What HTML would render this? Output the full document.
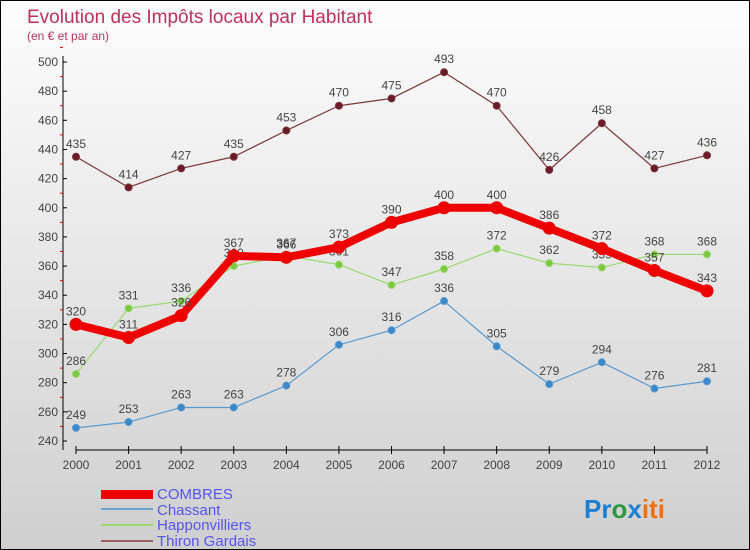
<!DOCTYPE html>
<html><head><meta charset="utf-8"><style>
body{margin:0}
#c{width:750px;height:550px;position:relative;box-sizing:border-box;border:1px solid #000;background:linear-gradient(#fdfdfd,#cfcfcf);font-family:"Liberation Sans",sans-serif;overflow:hidden}
</style></head><body>
<div id="c">
<svg id="s" width="750" height="550" style="position:absolute;left:0;top:0">
<text x="26" y="22" font-size="19" fill="#c0305a">Evolution des Impôts locaux par Habitant</text>
<text x="26" y="39" font-size="12" fill="#c0305a">(en € et par an)</text>
<g id="axes"></g><g id="series"></g>
<g font-size="15" fill="#5555ee">
<rect x="100" y="489" width="52" height="9" fill="#e00"/>
<text x="156" y="498">COMBRES</text>
<line x1="100" y1="508" x2="152" y2="508" stroke="#6aa3d0" stroke-width="2"/>
<text x="156" y="514">Chassant</text>
<line x1="100" y1="524" x2="152" y2="524" stroke="#9ad870" stroke-width="2"/>
<text x="156" y="529">Happonvilliers</text>
<line x1="100" y1="540" x2="152" y2="540" stroke="#9a6060" stroke-width="2"/>
<text x="156" y="545">Thiron Gardais</text>
</g>
<text x="583" y="517" font-size="26" font-weight="bold"><tspan fill="#1a7fd0">Pr</tspan><tspan fill="#2a9a40">o</tspan><tspan fill="#1a7fd0">x</tspan><tspan fill="#f07010">iti</tspan></text>
</svg>
</div>
<script>
const years=["2000","2001","2002","2003","2004","2005","2006","2007","2008","2009","2010","2011","2012"];
const yTicks=[240,260,280,300,320,340,360,380,400,420,440,460,480,500];
const combres=[320,311,326,367,366,373,390,400,400,386,372,357,343];
const chassant=[249,253,263,263,278,306,316,336,305,279,294,276,281];
const happon=[286,331,336,360,367,361,347,358,372,362,359,368,368];
const thiron=[435,414,427,435,453,470,475,493,470,426,458,427,436];
const NS="http://www.w3.org/2000/svg";
const xs=i=>75+i*(706-75)/12;
const ys=v=>440-(v-240)*(440-61)/260;
function mk(t,a,p){const e=document.createElementNS(NS,t);for(const k in a)e.setAttribute(k,a[k]);p.appendChild(e);return e;}
const ax=document.getElementById('axes');
let yl=mk('line',{x1:62,y1:55,x2:62,y2:449,stroke:'#000'},ax);


let xl=mk('line',{x1:75,y1:449,x2:706,y2:449,stroke:'#000'},ax);


yTicks.forEach(v=>{mk('line',{x1:62,y1:ys(v),x2:66,y2:ys(v),stroke:'#000'},ax);
 mk('line',{x1:59,y1:ys(v+10),x2:62,y2:ys(v+10),stroke:'#e00'},ax);
 const t=mk('text',{x:57,y:ys(v)+4,'text-anchor':'end','font-size':12,fill:'#444'},ax);t.textContent=v;
 
 });
years.forEach((y,i)=>{mk('line',{x1:xs(i),y1:445,x2:xs(i),y2:453,stroke:'#000'},ax);
 const t=mk('text',{x:xs(i),y:468,'text-anchor':'middle','font-size':12,fill:'#444'},ax);t.textContent=y;
 
 });
const sg=document.getElementById('series');
function draw(vals,name,col,dot,w,r){
 const g=mk('g',{},sg);
 
 
 mk('polyline',{points:vals.map((v,i)=>xs(i)+','+ys(v)).join(' '),fill:'none',stroke:col,'stroke-width':w,'stroke-linejoin':'round'},g);
 vals.forEach((v,i)=>{const c=mk('circle',{cx:xs(i),cy:ys(v),r:r,fill:dot,stroke:col,'stroke-width':1},g);
  
  
  const t=mk('text',{x:xs(i),y:ys(v)-9,'text-anchor':'middle','font-size':12,fill:'#444'},g);t.textContent=v;
  
  });
}
draw(thiron,'thiron-gardais','#7a3535','#6a1a2a',1.2,3.5);
draw(chassant,'chassant','#5a9ad0','#3a88c8',1.2,3.5);
draw(happon,'happonvilliers','#9ad870','#7ac840',1.2,3.5);
draw(combres,'combres','#ee0000','#ee0000',8,6);
</script>
</body></html>
